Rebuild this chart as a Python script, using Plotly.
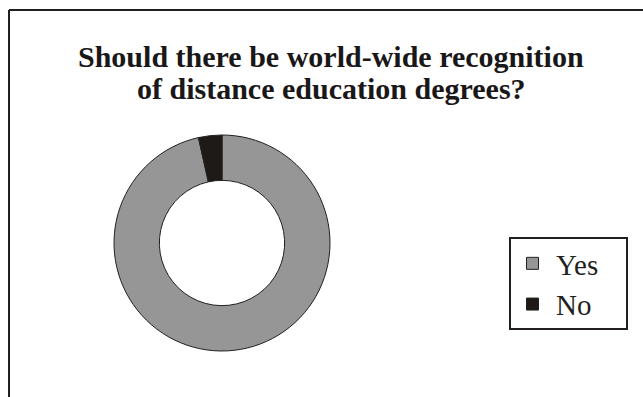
import plotly.graph_objects as go

labels = ["Yes", "No"]
values = [96.5, 3.5]
colors = ["#969696", "#1f1a17"]
title_lines = ["Should there be world-wide recognition", "of distance education degrees?"]

W, H = 643, 397

def px_x(x):
    return x / W

def px_y(y):
    return 1 - y / H

fig = go.Figure()
fig.add_trace(go.Pie(
    labels=labels, values=values, sort=False, direction="clockwise", rotation=0,
    hole=0.58, textinfo="none", hoverinfo="label+percent",
    marker=dict(colors=colors, line=dict(color="#231f20", width=1)),
    domain=dict(x=[px_x(114), px_x(330)], y=[px_y(351), px_y(135)]),
))

annotations = []
for i, (line, yb) in enumerate(zip(title_lines, [67, 99])):
    annotations.append(dict(
        text="<b>" + line + "</b>", x=px_x(331), y=px_y(yb), xref="paper", yref="paper",
        xanchor="center", yanchor="bottom", showarrow=False,
        font=dict(family="Liberation Serif", size=30, color="#1a1718"),
        yshift=-8,
    ))

fig.update_layout(
    width=W, height=H, margin=dict(l=0, r=0, t=0, b=0),
    paper_bgcolor="white", plot_bgcolor="white",
    showlegend=True,
    legend=dict(
        x=px_x(509), y=px_y(238), xanchor="left", yanchor="top",
        borderwidth=0, bgcolor="rgba(0,0,0,0)",
        font=dict(family="Liberation Serif", size=29, color="#231f20"),
        itemwidth=37, tracegroupgap=0,
    ),
    annotations=annotations,
    shapes=[
        dict(type="line", xref="paper", yref="paper", x0=px_x(9), x1=1, y0=px_y(10), y1=px_y(10),
             line=dict(color="#231f20", width=2)),
        dict(type="line", xref="paper", yref="paper", x0=px_x(9), x1=px_x(9), y0=px_y(10), y1=0,
             line=dict(color="#231f20", width=2)),
        dict(type="rect", xref="paper", yref="paper", x0=px_x(510), x1=px_x(627),
             y0=px_y(329), y1=px_y(238), line=dict(color="#231f20", width=2)),
    ],
)

fig.write_html("out.html")
